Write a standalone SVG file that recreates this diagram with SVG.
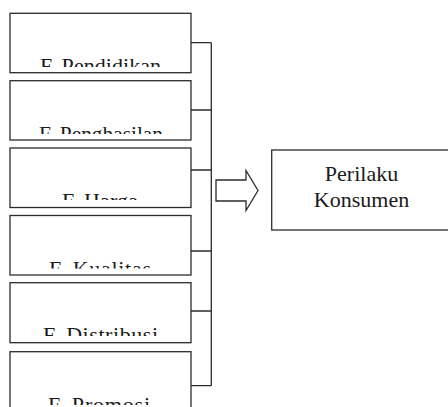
<svg xmlns="http://www.w3.org/2000/svg" width="448" height="407" viewBox="0 0 448 407">
<style>
.box{fill:#fff;stroke:#2b2b2b;stroke-width:1.3}
.lbl{font-family:"Liberation Serif","Times New Roman",serif;font-size:22px;fill:#1a1a1a;text-anchor:middle}
.con{fill:none;stroke:#2b2b2b;stroke-width:1.3}
</style>
<defs>
<clipPath id="c1"><rect x="10" y="14" width="181" height="53"/></clipPath>
<clipPath id="c2"><rect x="10" y="81" width="181" height="53"/></clipPath>
<clipPath id="c3"><rect x="10" y="148" width="181" height="52"/></clipPath>
<clipPath id="c4"><rect x="10" y="215.5" width="181" height="53"/></clipPath>
<clipPath id="c5"><rect x="10" y="283" width="181" height="53"/></clipPath>
<clipPath id="c6"><rect x="10" y="351.5" width="181" height="53.5"/></clipPath>
</defs>
<rect width="448" height="407" fill="#fff"/>
<g id="connectors">
<path class="con" d="M191,42.7H211.3M191,110H211.3M191,170H211.3M191,251H211.3M191,311H211.3M191,385.7H211.3M211.3,42.7V385.7"/>
<polygon class="con" points="216,180 246,180 246,170.5 258,190.5 246,210.5 246,201 216,201"/>
</g>
<g id="n1"><rect class="box" x="10" y="13.3" width="181" height="59.4"/><text class="lbl" x="100.5" y="72.5" clip-path="url(#c1)" textLength="121" lengthAdjust="spacing">F. Pendidikan</text></g>
<g id="n2"><rect class="box" x="10" y="80.7" width="181" height="59.3"/><text class="lbl" x="101" y="141" clip-path="url(#c2)" textLength="124" lengthAdjust="spacingAndGlyphs">F. Penghasilan</text></g>
<g id="n3"><rect class="box" x="10" y="148" width="181" height="59.5"/><text class="lbl" x="100" y="207.5" clip-path="url(#c3)" textLength="76" lengthAdjust="spacing">F. Harga</text></g>
<g id="n4"><rect class="box" x="10" y="215.5" width="181" height="59.5"/><text class="lbl" x="100" y="275.8" clip-path="url(#c4)" textLength="102" lengthAdjust="spacing">F.  Kualitas</text></g>
<g id="n5"><rect class="box" x="10" y="282.7" width="181" height="60"/><text class="lbl" x="100.5" y="342" clip-path="url(#c5)" textLength="115" lengthAdjust="spacing">F.  Distribusi</text></g>
<g id="n6"><rect class="box" x="10" y="351.7" width="181" height="60"/><text class="lbl" x="99" y="411.5" clip-path="url(#c6)" textLength="102" lengthAdjust="spacing">F.  Promosi</text></g>
<g id="n7"><rect class="box" x="271.7" y="150" width="185" height="80"/><text class="lbl" x="361.5" y="180.7">Perilaku</text><text class="lbl" x="361.5" y="206.7">Konsumen</text></g>
</svg>
